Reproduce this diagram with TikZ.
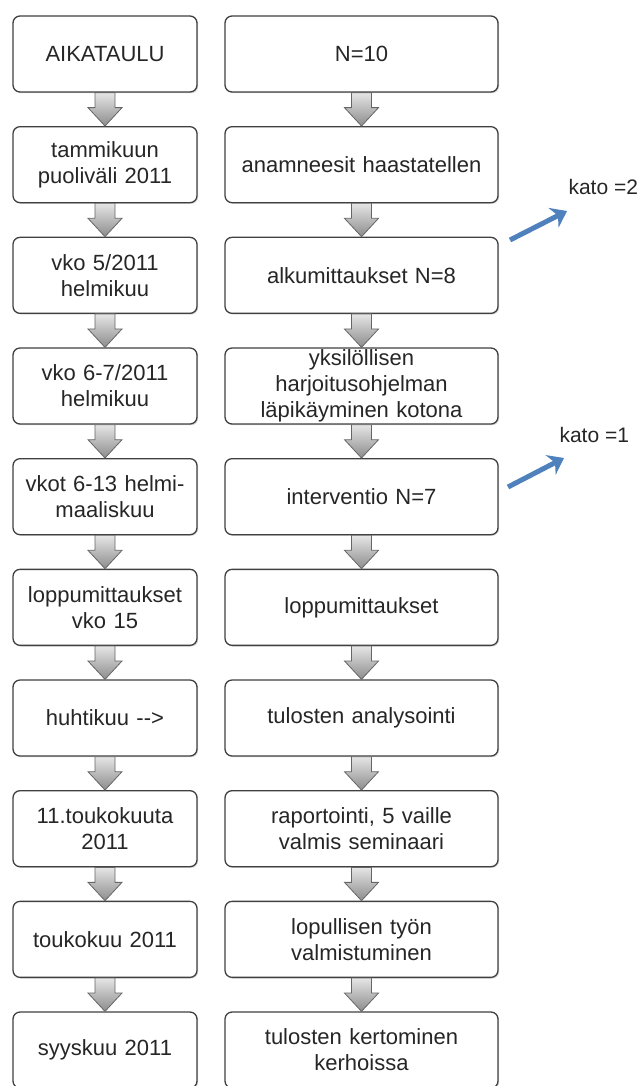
\documentclass[tikz,border=0pt]{standalone}
\usepackage{fontspec}
\setmainfont{Liberation Sans}
\usetikzlibrary{arrows.meta,calc,shadows}
\definecolor{katoblue}{HTML}{4F81BD}

\begin{document}
\begin{tikzpicture}[x=1pt,y=-1pt,>=Stealth,
    box/.style={draw=black!75,line width=1.3pt,rounded corners=7pt,fill=white,
      minimum height=76pt,inner xsep=4pt,inner ysep=0pt,align=center,
      text=black!85,font=\fontsize{22}{26}\selectfont,
      drop shadow={opacity=0.3,shadow xshift=1.2pt,shadow yshift=-1.2pt}},
    lbox/.style={box,text width=176pt},
    rbox/.style={box,text width=265pt},
    blockarrow/.style={draw=black!60,line width=0.8pt,top color=black!10,bottom color=black!45},
    katoarrow/.style={draw=katoblue,line width=5pt,-{Stealth[length=15pt,width=22pt]}},
    katolabel/.style={text=black!85,font=\fontsize{21}{25}\selectfont,anchor=west}]
  \useasboundingbox (0,0) rectangle (643,1086);

  % time line on the left
  \foreach \i/\txt in {1/{AIKATAULU},2/{tammikuun\\puoliväli 2011},
      3/{vko 5/2011\\helmikuu},4/{vko 6-7/2011\\helmikuu},
      5/{vkot 6-13 helmi-\\maaliskuu},6/{loppumittaukset\\vko 15},
      7/{huhtikuu -{}->},8/{11.toukokuuta\\2011},
      9/{toukokuu 2011},10/{syyskuu 2011}}
    \node[lbox] (l\i) at (105,{54+110.67*(\i-1)}) {\txt};

  % study steps on the right
  \foreach \i/\txt in {1/{N=10},2/{anamneesit haastatellen},
      3/{alkumittaukset N=8},
      4/{yksilöllisen\\harjoitusohjelman\\läpikäyminen kotona},
      5/{interventio N=7},6/{loppumittaukset},7/{tulosten analysointi},
      8/{raportointi, 5 vaille\\valmis seminaari},
      9/{lopullisen työn\\valmistuminen},
      10/{tulosten kertominen\\kerhoissa}}
    \node[rbox] (r\i) at (361.5,{54+110.67*(\i-1)}) {\txt};

  % grey block arrows between the boxes
  \foreach \c in {l,r}
    \foreach \i [count=\j from 2] in {1,...,9}
      \path[blockarrow] ([xshift=-10pt]\c\i.south) -- ([xshift=-10pt,yshift=-15pt]\c\i.south)
        -- ([xshift=-17pt,yshift=-15pt]\c\i.south) -- (\c\j.north)
        -- ([xshift=17pt,yshift=-15pt]\c\i.south) -- ([xshift=10pt,yshift=-15pt]\c\i.south)
        -- ([xshift=10pt]\c\i.south) -- cycle;

  % drop-outs
  \node[katolabel] (k2) at (565,187) {kato =2};
  \node[katolabel] (k1) at (556,435) {kato =1};
  \coordinate (k2a) at (510,240);
  \coordinate (k2b) at (567,211);
  \coordinate (k1a) at (508,487);
  \coordinate (k1b) at (564,458);
  \draw[katoarrow] (k2a) -- (k2b);
  \draw[katoarrow] (k1a) -- (k1b);
\end{tikzpicture}
\end{document}
